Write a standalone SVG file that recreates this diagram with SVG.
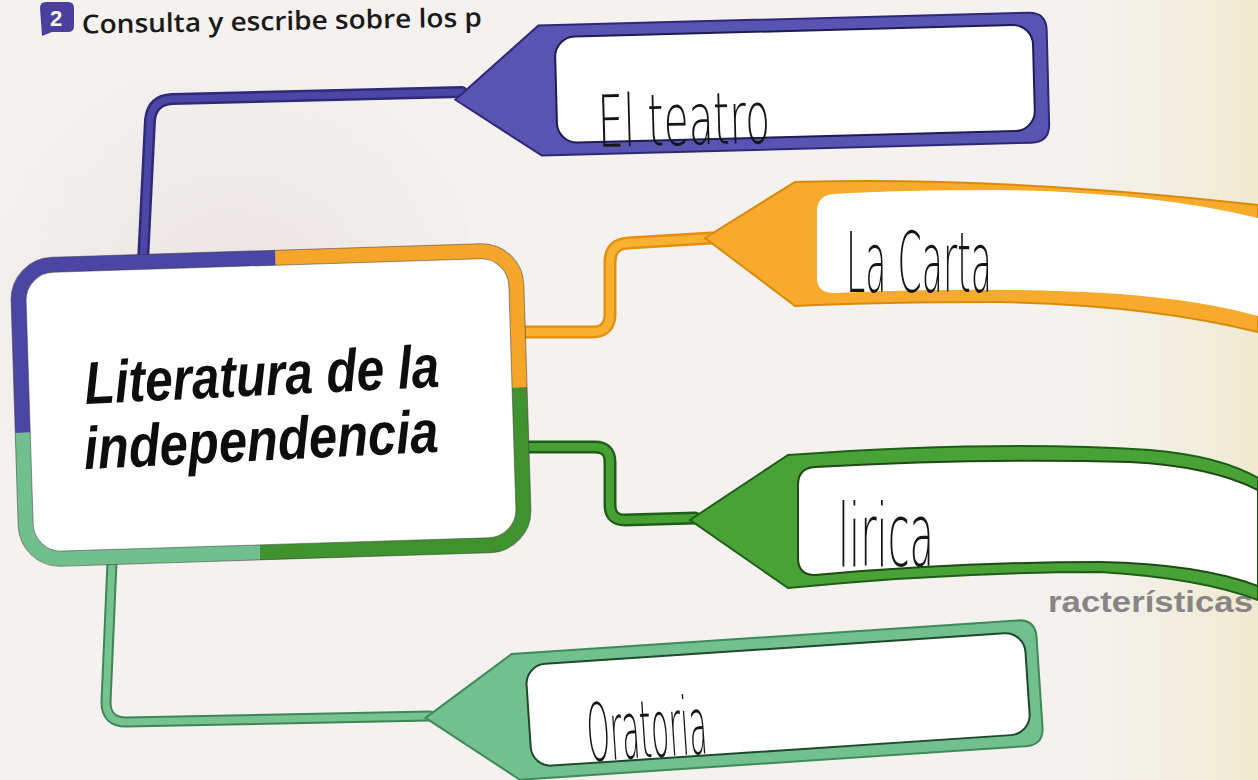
<svg xmlns="http://www.w3.org/2000/svg" width="1258" height="780" viewBox="0 0 1258 780">
<defs>
<style>
.hand{font-family:"DejaVu Sans",sans-serif;font-weight:200;fill:#151515;}
.title{font-family:"Open Sans","Liberation Sans",sans-serif;font-weight:600;fill:#1a1a1a;}
.main{font-family:"Liberation Sans",Arial,sans-serif;font-weight:bold;font-style:italic;fill:#0d0d0d;}
.cb{fill:none;stroke:#2e2a78;stroke-width:12;stroke-linecap:round;stroke-linejoin:round;}
.cbi{fill:none;stroke:#4c47a6;stroke-width:7;stroke-linecap:round;stroke-linejoin:round;}
.co{fill:none;stroke:#e4900e;stroke-width:13;stroke-linecap:round;stroke-linejoin:round;}
.coi{fill:none;stroke:#f7b030;stroke-width:8;stroke-linecap:round;stroke-linejoin:round;}
.cg{fill:none;stroke:#1f5e18;stroke-width:13;stroke-linecap:round;stroke-linejoin:round;}
.cgi{fill:none;stroke:#47a034;stroke-width:8;stroke-linecap:round;stroke-linejoin:round;}
.cl{fill:none;stroke:#3e8558;stroke-width:11;stroke-linecap:round;stroke-linejoin:round;}
.cli{fill:none;stroke:#76c390;stroke-width:7;stroke-linecap:round;stroke-linejoin:round;}
.seg{fill:none;stroke-width:15;stroke-linecap:butt;}
.inner{fill:#ffffff;}
</style>
<linearGradient id="cream" x1="0" y1="0" x2="1" y2="0">
<stop offset="0" stop-color="#f1eedc" stop-opacity="0"/>
<stop offset="1" stop-color="#efeacd" stop-opacity="1"/>
</linearGradient>
<radialGradient id="photo" cx="0.5" cy="0.5" r="0.6">
<stop offset="0" stop-color="#e6e0df" stop-opacity="0.8"/>
<stop offset="1" stop-color="#e6e0df" stop-opacity="0"/>
</radialGradient>
</defs>
<rect width="1258" height="780" fill="#f4f1ee"/>
<rect x="0" y="80" width="470" height="480" fill="url(#photo)"/>
<rect x="1080" y="0" width="178" height="780" fill="url(#cream)"/>

<g id="title">
<path d="M40,8 Q40,2 46,2 H68 Q74,2 74,8 V26 Q74,32 68,32 H52 L42,36 Z" fill="#4a3f9c"/>
<text x="50" y="26" font-family="Liberation Sans,sans-serif" font-weight="bold" font-size="22" fill="#ffffff">2</text>
<text class="title" x="82" y="30" font-size="26" textLength="400" lengthAdjust="spacingAndGlyphs" transform="rotate(-1 282 30)">Consulta y escribe sobre los p</text>
</g>

<g id="heading">
<text x="1048" y="612" font-family="Liberation Sans,sans-serif" font-weight="bold" font-size="30" fill="#8a8585" textLength="205" lengthAdjust="spacingAndGlyphs">racterísticas</text>
</g>

<g id="connectors">
<path class="cb" d="M143,262 L150,120 Q152,100 172,99 L462,92"/>
<path class="cbi" d="M143,262 L150,120 Q152,100 172,99 L462,92"/>
<path class="co" d="M526,332 H592 Q610,332 610,314 V262 Q610,244 628,243 L712,238"/>
<path class="coi" d="M526,332 H592 Q610,332 610,314 V262 Q610,244 628,243 L712,238"/>
<path class="cg" d="M526,447 H595 Q610,447 610,462 V505 Q610,520 625,520 L695,518"/>
<path class="cgi" d="M526,447 H595 Q610,447 610,462 V505 Q610,520 625,520 L695,518"/>
<path class="cl" d="M112,562 L106,702 Q106,722 126,722 L430,716"/>
<path class="cli" d="M112,562 L106,702 Q106,722 126,722 L430,716"/>
</g>

<g id="central" transform="rotate(-1.8 270 405)">
<rect x="22" y="258" width="498" height="294" rx="35" fill="#ffffff"/>
<path class="seg" stroke="#f5a62a" d="M280,258 H485 A35,35 0 0 1 520,293 V395"/>
<path class="seg" stroke="#3f922e" d="M520,395 V517 A35,35 0 0 1 485,552 H255"/>
<path class="seg" stroke="#70bf8c" d="M255,552 H57 A35,35 0 0 1 22,517 V425"/>
<path class="seg" stroke="#4b46a3" d="M22,425 V293 A35,35 0 0 1 57,258 H280"/>
<rect x="14.5" y="250.5" width="513" height="309" rx="42" fill="none" stroke="#333" stroke-width="1" opacity="0.5"/>
<rect x="29.5" y="265.5" width="483" height="279" rx="28" fill="none" stroke="#333" stroke-width="1" opacity="0.5"/>
<g transform="rotate(-1 270 420)">
<text class="main" x="86" y="395" font-size="60" textLength="355" lengthAdjust="spacingAndGlyphs">Literatura de la</text>
<text class="main" x="82" y="460" font-size="60" textLength="355" lengthAdjust="spacingAndGlyphs">independencia</text>
</g>
</g>

<g id="node-teatro" transform="rotate(-1.5 750 85)">
<path d="M455,92 L540,20 H1030 Q1048,20 1048,38 V132 Q1048,150 1030,150 H540 Z" fill="#5954b2" stroke="#2d2977" stroke-width="2"/>
<rect class="inner" x="556" y="32" width="478" height="106" rx="20" stroke="#1e1b55" stroke-width="2"/>
<text class="hand" x="597" y="143" font-size="72" textLength="172" lengthAdjust="spacingAndGlyphs">El teatro</text>
</g>

<g id="node-carta">
<path d="M705,238 L795,182 Q1000,176 1258,205 V332 Q1150,305 1000,302 Q880,302 795,306 Z" fill="#f6ab2c" stroke="#d98a0e" stroke-width="2"/>
<path class="inner" d="M834,194 Q817,195 817,212 V278 Q817,293 834,293 Q1000,286 1120,294 Q1200,300 1258,316 V218 Q1150,192 1000,190 Q900,190 834,194 Z"/>
<text class="hand" x="846" y="292" font-size="84" textLength="146" lengthAdjust="spacingAndGlyphs">La Carta</text>
</g>

<g id="node-lirica">
<path d="M690,520 L788,455 Q1000,440 1150,450 Q1220,456 1258,478 V600 Q1200,578 1100,572 Q950,572 788,588 Z" fill="#48a236" stroke="#1f5e18" stroke-width="2"/>
<path class="inner" d="M815,467 Q798,468 798,485 V558 Q798,575 815,575 Q960,562 1100,562 Q1200,564 1258,586 V490 Q1210,466 1130,462 Q980,458 815,467 Z" stroke="#1f4a16" stroke-width="2"/>
<text class="hand" x="838" y="566" font-size="88" textLength="96" lengthAdjust="spacingAndGlyphs">lirica</text>
</g>

<g id="node-oratoria" transform="rotate(-3.8 725 700)">
<path d="M425,698 L515,640 H1022 Q1040,640 1040,658 V748 Q1040,766 1022,766 H515 Z" fill="#72c08e" stroke="#3f8a5a" stroke-width="2"/>
<rect class="inner" x="528" y="652" width="500" height="102" rx="20" stroke="#1e4a2c" stroke-width="2"/>
<text class="hand" x="585" y="752" font-size="80" textLength="120" lengthAdjust="spacingAndGlyphs">Oratoria</text>
</g>
</svg>
